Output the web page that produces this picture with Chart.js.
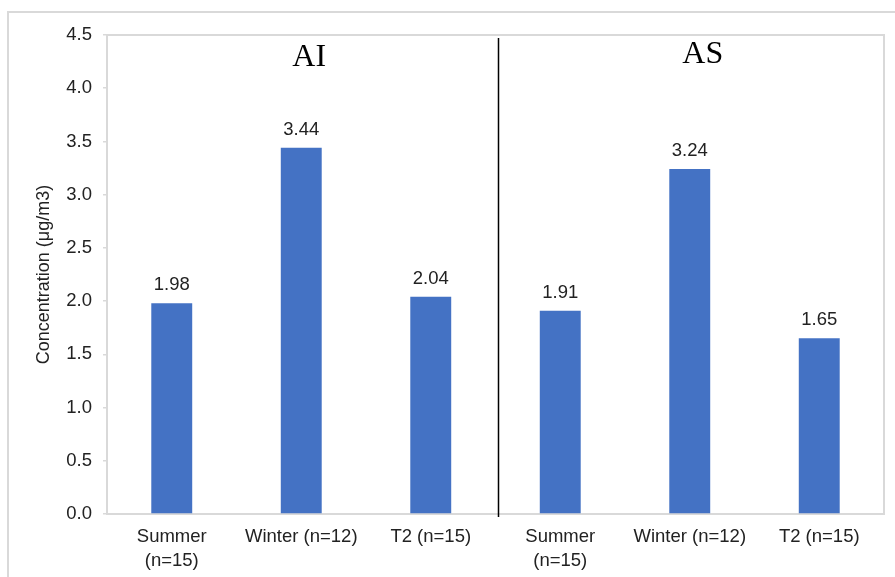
<!DOCTYPE html>
<html>
<head>
<meta charset="utf-8">
<script src="https://cdn.jsdelivr.net/npm/chart.js@4.4.1/dist/chart.umd.min.js"></script>
<style>
  html, body { margin: 0; padding: 0; background: #fff; }
  #wrap { width: 895px; height: 577px; position: relative; }
</style>
</head>
<body>
<div id="wrap"><canvas id="myChart" width="895" height="577"></canvas></div>
<script>
// seasons for the two sites, AI first then AS
const categories = [
  ['Summer', '(n=15)'], 'Winter (n=12)', 'T2 (n=15)',
  ['Summer', '(n=15)'], 'Winter (n=12)', 'T2 (n=15)'
]
const concentration = [1.98, 3.44, 2.04, 1.91, 3.24, 1.65]
const siteNames = ['AI', 'AS']
const siteLabelAt = [4.29, 4.32]
const yTicks = [0, 0.5, 1, 1.5, 2, 2.5, 3, 3.5, 4, 4.5]

const textColor = '#222222'
const lineGray = '#d9d9d9'
const sans = '"Liberation Sans", Arial, sans-serif'

// frame round the whole figure and the plot area box
const frames = {
  id: 'frames',
  beforeDraw(chart) {
    const ctx = chart.ctx
    const a = chart.chartArea
    ctx.save()
    ctx.strokeStyle = lineGray
    ctx.lineWidth = 2
    ctx.strokeRect(8, 12, 920, 620)
    ctx.beginPath()
    ctx.moveTo(a.left, a.top)
    ctx.lineTo(a.right, a.top)
    ctx.lineTo(a.right, a.bottom)
    ctx.stroke()
    ctx.restore()
  }
}

// value labels above bars, site divider and site names
const extras = {
  id: 'extras',
  afterDatasetsDraw(chart) {
    const ctx = chart.ctx
    const x = chart.scales.x
    const y = chart.scales.y
    const a = chart.chartArea
    ctx.save()
    ctx.fillStyle = textColor
    ctx.font = '18.5px ' + sans
    ctx.textAlign = 'center'
    ctx.textBaseline = 'middle'
    chart.getDatasetMeta(0).data.forEach((bar, i) => {
      ctx.fillText(concentration[i].toFixed(2), bar.x, bar.y - 18)
    })

    const mid = (x.getPixelForValue(2) + x.getPixelForValue(3)) / 2 + 3
    ctx.strokeStyle = '#000'
    ctx.lineWidth = 1.5
    ctx.beginPath()
    ctx.moveTo(mid, a.top + 3)
    ctx.lineTo(mid, a.bottom + 3)
    ctx.stroke()

    ctx.fillStyle = '#000'
    ctx.font = '32px "Liberation Serif", "Times New Roman", serif'
    ctx.fillText(siteNames[0], x.getPixelForValue(1) + 8, y.getPixelForValue(siteLabelAt[0]))
    ctx.fillText(siteNames[1], x.getPixelForValue(4) + 13, y.getPixelForValue(siteLabelAt[1]))
    ctx.restore()
  }
}

const config = {
  type: 'bar',
  data: {
    labels: categories,
    datasets: [{
      data: concentration,
      backgroundColor: '#4472C4',
      borderWidth: 0,
      categoryPercentage: 1,
      barPercentage: 0.316
    }]
  },
  options: {
    responsive: false,
    animation: false,
    devicePixelRatio: 1,
    layout: { padding: { top: 35, right: 11, left: 0, bottom: 0 } },
    plugins: { legend: { display: false }, tooltip: { enabled: false } },
    scales: {
      x: {
        grid: { display: false, drawTicks: false },
        border: { color: lineGray, width: 2 },
        ticks: {
          color: textColor,
          maxRotation: 0,
          autoSkip: false,
          padding: 11,
          font: { family: sans, size: 18.5, lineHeight: 1.3 }
        },
        afterFit(scale) { scale.height = 63 }
      },
      y: {
        min: 0,
        max: 4.5,
        afterBuildTicks(scale) { scale.ticks = yTicks.map(v => ({ value: v })) },
        grid: { drawOnChartArea: false, tickLength: 4, color: lineGray, tickColor: lineGray, lineWidth: 1.5 },
        border: { color: lineGray, width: 2 },
        ticks: {
          color: textColor,
          padding: 11,
          font: { family: sans, size: 18.5 },
          callback: v => Number(v).toFixed(1)
        },
        title: {
          display: true,
          text: 'Concentration (μg/m3)',
          color: textColor,
          padding: { top: 33, bottom: 0 },
          font: { family: sans, size: 18 }
        },
        afterFit(scale) { scale.width = 107 }
      }
    }
  },
  plugins: [frames, extras]
}

const myChart = new Chart(document.getElementById('myChart'), config)
</script>
</body>
</html>
